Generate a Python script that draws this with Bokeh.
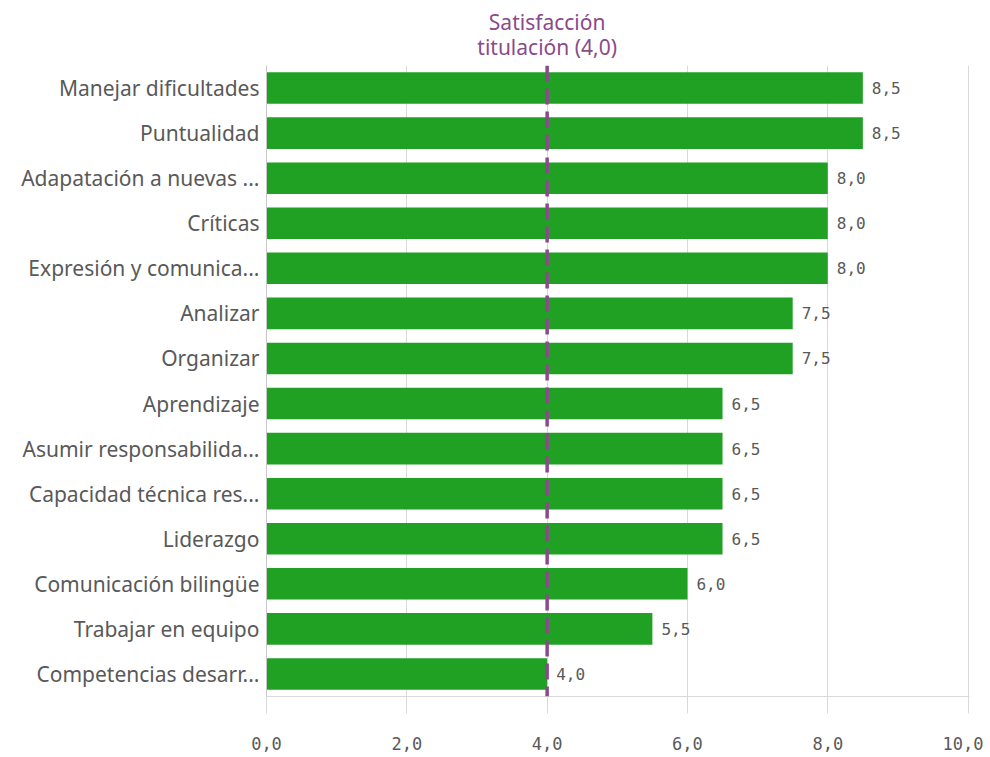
from bokeh.plotting import figure
from bokeh.layouts import column
from bokeh.models import FactorRange, Range1d, Span, ColumnDataSource, FixedTicker, CustomJSTickFormatter
from bokeh.embed import file_html
from bokeh.resources import INLINE
from bokeh.core.properties import value

categories = ["Manejar dificultades", "Puntualidad", "Adapatación a nuevas ...", "Críticas",
              "Expresión y comunica...", "Analizar", "Organizar", "Aprendizaje",
              "Asumir responsabilida...", "Capacidad técnica res...", "Liderazgo",
              "Comunicación bilingüe", "Trabajar en equipo", "Competencias desarr..."]
values = [8.5, 8.5, 8.0, 8.0, 8.0, 7.5, 7.5, 6.5, 6.5, 6.5, 6.5, 6.0, 5.5, 4.0]
ref_value = 4.0
ref_label = ["Satisfacción", "titulación (4,0)"]
x_ticks = [0, 2, 4, 6, 8, 10]

GREEN = "#20a124"
PURPLE = "#8b4a8b"
TEXT = "#595959"
GRID = "#d9d9d9"

W = 983
LEFT = 266
RIGHT = 14
x_range = Range1d(0, 10.02)

# --- top strip holding the reference line caption ---
top = figure(width=W, height=65, output_backend="svg", toolbar_location=None,
             x_range=x_range, y_range=Range1d(65, 0),
             min_border_left=LEFT, min_border_right=RIGHT, min_border_top=0, min_border_bottom=0)
top.outline_line_color = None
top.axis.visible = False
top.grid.visible = False
top.text(x=[ref_value, ref_value], y=[21, 46], text=ref_label, text_align="center",
         text_baseline="middle", text_color=PURPLE, text_font=value("Noto Sans"),
         text_font_size="21px")

# --- main chart ---
labels = [f"{v:.1f}".replace(".", ",") for v in values]
src = ColumnDataSource(dict(cat=categories, val=values, lab=labels))

p = figure(width=W, height=687, output_backend="svg", toolbar_location=None,
           y_range=FactorRange(factors=list(reversed(categories))),
           x_range=x_range,
           min_border_left=LEFT, min_border_right=RIGHT, min_border_top=0, min_border_bottom=55)
p.outline_line_color = None

p.hbar(y="cat", right="val", left=0, height=0.7, source=src, color=GREEN, line_color=None)
p.text(x="val", y="cat", text="lab", source=src, x_offset=9, text_baseline="middle",
       text_align="left", text_color=TEXT, text_font=value("DejaVu Sans Mono"),
       text_font_size="16px")

p.add_layout(Span(location=ref_value, dimension="height", line_color=PURPLE,
                  line_width=3.5, line_dash="16 7"))

p.ygrid.grid_line_color = None
p.xgrid.grid_line_color = GRID
p.xgrid.ticker = FixedTicker(ticks=x_ticks)

p.xaxis.ticker = FixedTicker(ticks=x_ticks)
p.xaxis.formatter = CustomJSTickFormatter(code="return tick.toFixed(1).replace('.', ',');")
p.xaxis.axis_line_color = GRID
p.xaxis.major_tick_line_color = GRID
p.xaxis.major_tick_in = 0
p.xaxis.major_tick_out = 17
p.xaxis.minor_tick_line_color = None
p.xaxis.major_label_standoff = 23
p.xaxis.major_label_text_font = "DejaVu Sans Mono"
p.xaxis.major_label_text_font_size = "17px"
p.xaxis.major_label_text_color = TEXT

p.yaxis.axis_line_color = "#c8c8c8"
p.yaxis.major_tick_line_color = None
p.yaxis.minor_tick_line_color = None
p.yaxis.major_label_standoff = 1
p.yaxis.major_label_text_font = "Noto Sans"
p.yaxis.major_label_text_font_size = "21px"
p.yaxis.major_label_text_color = TEXT

layout = column(top, p, spacing=0)
open("out.html", "w").write(file_html(layout, INLINE))
